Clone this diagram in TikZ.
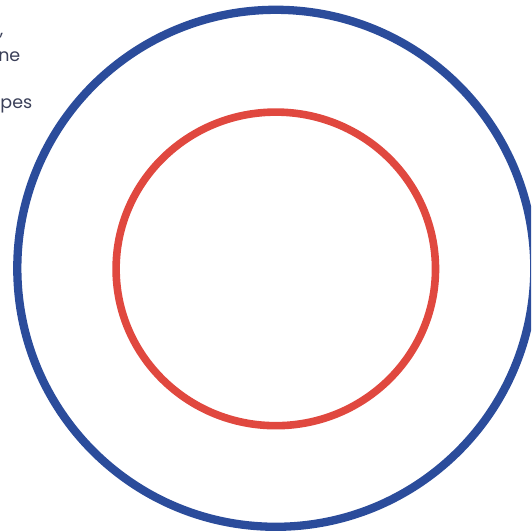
\documentclass[tikz,border=0pt]{standalone}
\usepackage{fontspec}
\setmainfont{Poppins}
\definecolor{ringblue}{HTML}{2B4C9B}
\definecolor{ringred}{HTML}{E0483F}
\definecolor{txt}{HTML}{3A3F58}
\begin{document}
\begin{tikzpicture}[x=1pt,y=1pt,
  ring/.style={line width=8.3pt},
  frag/.style={anchor=base east,inner sep=0pt,text=txt,font=\fontsize{17.5}{20}\selectfont}]
\useasboundingbox (0,0) rectangle (531,532);
\begin{scope}
\clip (0,0) rectangle (531,532);
\draw[ring,ringblue] (275.8,263.7) circle (258.5);
\draw[ring,ringred,line width=7.6pt] (275.8,263.1) ellipse [x radius=159.7,y radius=156.8];
\node[frag] (t1) at (3.5,496) {,};
\node[frag] (t2) at (20.5,470) {ne};
\node[frag] (t3) at (32.5,423) {pes};
\end{scope}
\end{tikzpicture}
\end{document}
